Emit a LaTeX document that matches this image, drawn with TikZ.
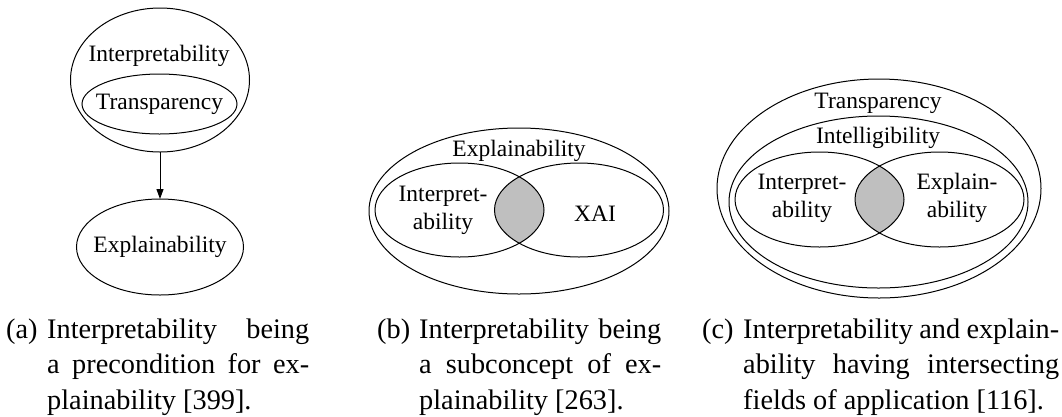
\documentclass[tikz,border=0pt]{standalone}
\usepackage{fontspec}
\setmainfont{Liberation Serif}
\usetikzlibrary{shapes.geometric,arrows.meta}
\begin{document}
\begin{tikzpicture}[x=1pt,y=-1pt,
  set/.style={draw, ellipse, line width=1pt, inner sep=0pt, outer sep=0pt},
  lbl/.style={font=\fontsize{23.5}{27.5}\selectfont, inner sep=0pt, anchor=base, align=center},
  cap/.style={font=\fontsize{28.3}{35.5}\selectfont, inner sep=0pt, anchor=base west,
              text width=#1, align=justify},
  lens/.style={fill=black!25},
  arr/.style={line width=1pt, -{Triangle[length=10pt,width=7pt]}}
]
\useasboundingbox (0,0) rectangle (1062,416);

% ---------- (a) ----------
\node[set, minimum width=179pt, minimum height=144pt] (interp) at (160,80) {};
\node[set, minimum width=155pt, minimum height=60pt] (transpA) at (159.5,104) {};
\node[set, minimum width=167pt, minimum height=96pt] (explA) at (160,247) {};
\node[lbl] (tInterp) at (159,61) {Interpretability};
\node[lbl] (tTranspA) at (159.5,109) {Transparency};
\node[lbl] (tExplA) at (160,252) {Explainability};
\draw[arr] (interp.south) -- (explA.north);

% ---------- (b) ----------
\begin{scope}
  \clip (459.5,210) ellipse [x radius=84.5pt, y radius=47pt];
  \fill[lens] (579,210) ellipse [x radius=84.5pt, y radius=47pt];
\end{scope}
\node[set, minimum width=300pt, minimum height=166pt] (explB) at (519,211) {};
\node[set, minimum width=169pt, minimum height=94pt] (interpB) at (459.5,210) {};
\node[set, minimum width=169pt, minimum height=94pt] (xai) at (579,210) {};
\node[lbl] (tExplB) at (519,156) {Explainability};
\node[lbl] (tInterpB) at (443,229) {Interpret-\\ability};
\node[lbl] (tXai) at (595,221) {XAI};

% ---------- (c) ----------
\begin{scope}
  \clip (819.5,199.5) ellipse [x radius=84.5pt, y radius=47.5pt];
  \fill[lens] (939.5,199.5) ellipse [x radius=84.5pt, y radius=47.5pt];
\end{scope}
\node[set, minimum width=324pt, minimum height=219pt] (transpC) at (879,188.5) {};
\node[set, minimum width=299pt, minimum height=172pt] (intell) at (878.5,202) {};
\node[set, minimum width=169pt, minimum height=95pt] (interpC) at (819.5,199.5) {};
\node[set, minimum width=169pt, minimum height=95pt] (explC) at (939.5,199.5) {};
\node[lbl] (tTranspC) at (878,108) {Transparency};
\node[lbl] (tIntell) at (878,143) {Intelligibility};
\node[lbl] (tInterpC) at (802,217) {Interpret-\\ability};
\node[lbl] (tExplC) at (957,217) {Explain-\\ability};

% ---------- captions ----------
\node[cap=303pt] (capA) at (6,338) {\hyphenpenalty=10000\hangindent=41pt\hangafter=1
  \makebox[41pt][l]{(a)}Interpretability being\linebreak a precondition for ex-\linebreak plainability [399].\par};
\node[cap=284pt] (capB) at (377,338) {\hyphenpenalty=10000\hangindent=42pt\hangafter=1
  \makebox[42pt][l]{(b)}Interpretability being\linebreak a subconcept of ex-\linebreak plainability [263].\par};
\node[cap=357pt] (capC) at (702,338) {\hyphenpenalty=10000\hangindent=41pt\hangafter=1
  \makebox[41pt][l]{(c)}Interpretability and explain-\linebreak ability having intersecting\linebreak fields of application [116].\par};
\end{tikzpicture}
\end{document}
